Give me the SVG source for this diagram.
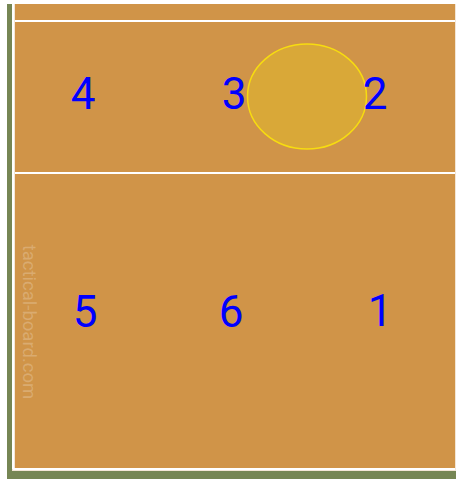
<svg xmlns="http://www.w3.org/2000/svg" width="456" height="479" viewBox="0 0 456 479">
<style>
.num{font-family:Roboto,"Liberation Sans",sans-serif;font-size:44px;fill:#0000ff;text-anchor:middle}
.line{stroke:#ffffff;stroke-width:2;fill:none}
</style>
<rect x="0" y="0" width="456" height="479" fill="#ffffff"/>
<rect x="7" y="4" width="449" height="475" fill="#768654"/>
<rect x="12" y="4" width="444" height="467" fill="#f3e6d6"/>
<rect x="15" y="4" width="440" height="464" fill="#d09448"/>
<line class="line" x1="15" y1="21" x2="455" y2="21"/>
<line class="line" x1="15" y1="173" x2="455" y2="173"/>
<line class="line" x1="13" y1="4" x2="13" y2="469"/>
<line class="line" x1="13" y1="469" x2="455" y2="469"/>
<text x="29" y="322" transform="rotate(90 29 322)" font-family="Roboto,'Liberation Sans',sans-serif" font-size="18.5" fill="#ffffff" fill-opacity="0.22" text-anchor="middle" dominant-baseline="central">tactical-board.com</text>
<g id="ball"><ellipse cx="307" cy="96.5" rx="59.5" ry="52.5" fill="#d9a838" stroke="#f7dc10" stroke-width="1.5"/></g>
<g id="p4"><text class="num" x="83" y="109">4</text></g>
<g id="p3"><text class="num" x="234" y="109">3</text></g>
<g id="p2"><text class="num" x="375" y="109">2</text></g>
<g id="p5"><text class="num" x="85" y="327">5</text></g>
<g id="p6"><text class="num" x="231" y="327">6</text></g>
<g id="p1"><text class="num" x="380" y="326">1</text></g>
<g id="connectors"></g>
</svg>
